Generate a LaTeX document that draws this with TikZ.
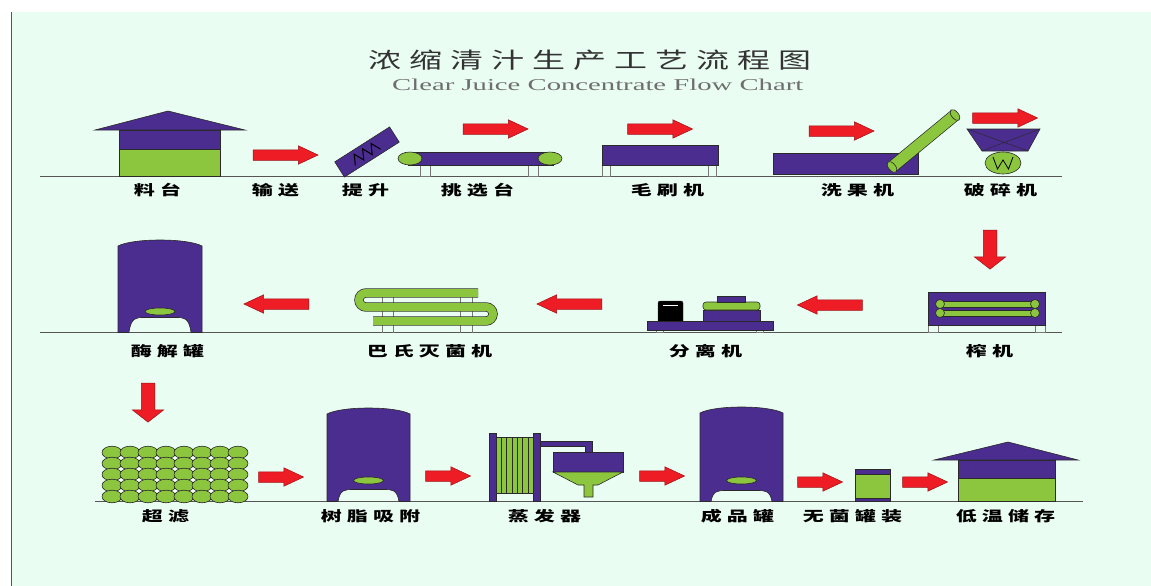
\documentclass[tikz,border=0pt]{standalone}
\usepackage{fontspec}
\usepackage{graphicx}
\usetikzlibrary{shapes.arrows,shapes.geometric}
\setmainfont{Liberation Serif}
\newfontfamily\cjk[LetterSpace=24]{Noto Sans CJK SC}

\definecolor{bgmint}{HTML}{EAFDF3}
\definecolor{eqpurple}{HTML}{4B2C8F}
\definecolor{eqgreen}{HTML}{8CC63F}
\definecolor{flowred}{HTML}{EE1C24}
\definecolor{edgecol}{HTML}{2A2A2A}
\definecolor{groundcol}{HTML}{555555}
\definecolor{titlecol}{HTML}{333333}
\definecolor{subcol}{HTML}{6E6E6E}

% horizontally widened text
\newcommand\stretchx[1]{\scalebox{1.5}[1]{#1}}

% storage tank on legs: x-left, x-right, dome top, bottom, arch height
\newcommand\drawtank[5]{%
  \filldraw[equip] (#1,#4) -- ({#1},{#3+6})
    .. controls ({#1+15},{#3-2}) and ({#2-15},{#3-2}) .. ({#2},{#3+6})
    -- ({#2},{#4}) -- ({#2-11},{#4})
    .. controls ({#2-13},{#4-#5}) and ({#2-18},{#4-#5}) .. ({#2-26},{#4-#5})
    -- ({#1+26},{#4-#5})
    .. controls ({#1+18},{#4-#5}) and ({#1+13},{#4-#5}) .. ({#1+11},{#4}) -- cycle;
  \filldraw[fruit] ({(#1+#2)/2},{#4-21}) ellipse[x radius=15, y radius=3.5];
}

\begin{document}
\begin{tikzpicture}[x=1pt,y=-1pt,
  equip/.style={fill=eqpurple, draw=edgecol, line width=0.6pt},
  fruit/.style={fill=eqgreen, draw=edgecol, line width=0.6pt},
  legbox/.style={fill=bgmint, draw=groundcol!80, line width=0.5pt},
  ground/.style={draw=groundcol, line width=0.9pt},
  flow/.style={single arrow, fill=flowred, draw=flowred!65!black, line width=0.5pt,
    inner xsep=0pt, inner ysep=5pt, minimum width=18pt, single arrow head extend=4pt,
    single arrow tip angle=50, minimum height=65pt},
  flowshort/.style={flow, minimum height=45pt},
  flowdown/.style={flow, rotate=-90, inner ysep=6.5pt, minimum width=31pt,
    single arrow head extend=9pt, single arrow tip angle=104, minimum height=39pt},
  lab/.style={font=\cjk\bfseries\fontsize{14}{14}\selectfont, text=black, inner sep=0pt},
  coil/.style={draw=edgecol, line width=0.7pt, double=eqgreen, double distance=8pt},
  tube/.style={draw=edgecol, line width=0.7pt, double=eqgreen, double distance=11pt}
]
\useasboundingbox (0,0) rectangle (1151,586);

% sheet
\fill[white] (0,0) rectangle (1151,586);
\fill[bgmint] (12,12) rectangle (1151,586);
\draw[groundcol, line width=1pt] (11.5,12) -- (11.5,586);

% titles
\node[font=\cjk\fontsize{22}{22}\selectfont, text=titlecol, inner sep=0pt] (title) at (590,60) {\stretchx{浓缩清汁生产工艺流程图}};
\node[anchor=base west, inner sep=0pt, text=subcol] (subtitle) at (392,90)
  {\resizebox{411pt}{11.5pt}{Clear Juice Concentrate Flow Chart}};

% floor lines
\draw[ground] (40,176.5) -- (1062,176.5);
\draw[ground] (40,332.5) -- (1062,332.5);
\draw[ground] (95,501.5) -- (1083,501.5);

% ---------------- row 1 ----------------
% raw material shed
\filldraw[equip] (95,130) -- (168,111) -- (245,130) -- cycle;
\filldraw[equip] (119,130) rectangle (220,149);
\filldraw[fruit] (119,149) rectangle (220,176.5);

\node[flow] (f1) at (280,155) {};

% lifting conveyor
\node[equip, rotate=32.5, minimum width=65pt, minimum height=18pt, inner sep=0pt] (lift) at (367,152) {};
\begin{scope}[shift={(lift.center)}, rotate=32.5]
  \draw[black, line width=1pt] (-17,5) -- (-12,-5) -- (-7,5) -- (-2,-5) -- (3,5) -- (8,-5) -- (13,5);
\end{scope}

% sorting table
\filldraw[legbox] (420,165) rectangle (430,176.5);
\filldraw[legbox] (528,165) rectangle (538,176.5);
\filldraw[equip] (408,152) rectangle (553,165);
\filldraw[fruit] (410,158.5) ellipse[x radius=12, y radius=6.5];
\filldraw[fruit] (550,158.5) ellipse[x radius=12, y radius=6.5];
\node[flow] (f2) at (490,129) {};

% brushing machine
\filldraw[legbox] (602,165) rectangle (610,176.5);
\filldraw[legbox] (708,165) rectangle (716,176.5);
\filldraw[equip] (602,145) rectangle (718,165);
\node[flow] (f3) at (654.5,129) {};

% fruit washer with elevator tube
\filldraw[equip] (773,153) rectangle (918,174);
\draw[tube] (892,167) -- (955,115);
\filldraw[fruit, rotate around={39.5:(892,167)}] (892,167) ellipse[x radius=3.5, y radius=6.5];
\filldraw[fruit, rotate around={39.5:(955,115)}] (955,115) ellipse[x radius=3.5, y radius=6.5];
\node[flow] (f4) at (836,131) {};

% crusher
\node[flow] (f5) at (999.5,118) {};
\filldraw[equip] (967,129) -- (1040,129) -- (1028,151) -- (982,151) -- cycle;
\draw[edgecol, line width=0.5pt] (967,129) -- (1028,151) (1040,129) -- (982,151);
\node[fruit, ellipse, minimum width=36pt, minimum height=22pt, inner sep=0pt] (wheel) at (1003,163) {};
\draw[black, line width=0.8pt] (993,157) -- (997.5,169) -- (1003,160) -- (1008.5,169) -- (1013,157);

% row 1 captions
\node[lab] (l1) at (157.5,190) {\stretchx{料台}};
\node[lab] (l2) at (275.5,190) {\stretchx{输送}};
\node[lab] (l3) at (365.5,190) {\stretchx{提升}};
\node[lab] (l4) at (477.5,190) {\stretchx{挑选台}};
\node[lab] (l5) at (667.5,190) {\stretchx{毛刷机}};
\node[lab] (l6) at (857.5,190) {\stretchx{洗果机}};
\node[lab] (l7) at (1000.5,190) {\stretchx{破碎机}};

% ---------------- row 2 ----------------
\node[flowdown] (d1) at (990,247) {};

% press
\filldraw[legbox] (928,325) rectangle (938,332.5);
\filldraw[legbox] (1035,325) rectangle (1045,332.5);
\filldraw[equip] (928,292) rectangle (1045,325);
\foreach \yy in {304,313} {
  \filldraw[fruit] (940,\yy-3) rectangle (1035,\yy+3);
  \filldraw[fruit] (940,\yy) circle[radius=4.5];
  \filldraw[fruit] (1035,\yy) circle[radius=4.5];
}

\node[flow, rotate=180] (g1) at (835.5,305) {};

% centrifuge
\filldraw[legbox] (656,330) rectangle (663,332.5);
\filldraw[legbox] (756,330) rectangle (763,332.5);
\filldraw[equip] (647,321) rectangle (773,330);
\filldraw[fill=black, draw=edgecol, rounded corners=2pt] (658,321) -- (658,301) -- (683,301) -- (683,321);
\draw[white, line width=0.8pt] (663,305) -- (678,305);
\filldraw[equip] (703,310) rectangle (760,321);
\filldraw[fruit, rounded corners=3pt] (703,302) rectangle (760,310);
\filldraw[equip] (717,296) rectangle (745,302);

\node[flow, rotate=180] (g2) at (575,304) {};

% pasteurizer
\foreach \xx in {382,393,460,472} \draw[groundcol!80, line width=0.6pt] (\xx,289) -- (\xx,332.5);
\draw[coil] (478,293) -- (366,293) arc[start angle=-90, end angle=-270, radius=7]
  -- (486,307) arc[start angle=-90, end angle=90, radius=7] -- (373,321);

\node[flow, rotate=180] (g3) at (282,304) {};

% enzymolysis tank
\drawtank{118}{202}{240}{332.5}{15}

% row 2 captions
\node[lab] (m1) at (167.5,351) {\stretchx{酶解罐}};
\node[lab] (m2) at (429.5,351) {\stretchx{巴氏灭菌机}};
\node[lab] (m3) at (705.5,351) {\stretchx{分离机}};
\node[lab] (m4) at (989.5,351) {\stretchx{榨机}};

% ---------------- row 3 ----------------
\node[flowdown] (d2) at (148,400) {};

% ultrafiltration membrane bundle
\foreach \i in {0,...,7} \foreach \j in {0,...,4}
  \filldraw[fruit] ({112+18*\i},{452.5+11*\j}) ellipse[x radius=10, y radius=6.3];
\foreach \i in {1,...,7} \foreach \j in {1,...,4}
  \fill[white] ({103+18*\i},{447+11*\j}) ellipse[x radius=1.8, y radius=1.4];

\node[flowshort] (h1) at (275.5,477) {};

% resin adsorption column
\drawtank{327}{410}{408}{501.5}{12}

\node[flowshort] (h2) at (442.5,476) {};

% evaporator
\filldraw[equip] (489,433) rectangle (496,501.5);
\filldraw[equip] (533,433) rectangle (540,501.5);
\filldraw[fruit] (496,437) rectangle (533,493);
\foreach \k in {1,...,6} \draw[edgecol, line width=0.5pt] ({496+5.3*\k},437) -- ({496+5.3*\k},493);
\filldraw[equip] (540,441) -- (592,441) -- (592,452) -- (585,452) -- (585,446) -- (540,446) -- cycle;
\filldraw[equip] (553,452) rectangle (623,472);
\filldraw[fruit] (553,472) -- (623,472) -- (598,485) -- (593,485) -- (593,497) -- (584,497) -- (584,485) -- (578,485) -- cycle;

\node[flowshort] (h3) at (656.5,476) {};

% product tank
\drawtank{700}{783}{407}{501.5}{11}

\node[flowshort] (h4) at (814.5,482) {};

% aseptic package
\filldraw[equip] (855,469) rectangle (890,501.5);
\filldraw[fruit] (855,474) rectangle (890,498.5);

\node[flowshort] (h5) at (919.5,482) {};

% cold store
\filldraw[equip] (934,460) -- (1008,442) -- (1078,460) -- cycle;
\filldraw[equip] (958,460) rectangle (1055,478);
\filldraw[fruit] (958,478) rectangle (1055,501.5);

% row 3 captions
\node[lab] (n1) at (165.5,516) {\stretchx{超滤}};
\node[lab] (n2) at (370.5,516) {\stretchx{树脂吸附}};
\node[lab] (n3) at (544.5,516) {\stretchx{蒸发器}};
\node[lab] (n4) at (737.5,516) {\stretchx{成品罐}};
\node[lab] (n5) at (852.5,516) {\stretchx{无菌罐装}};
\node[lab] (n6) at (1005.5,516) {\stretchx{低温储存}};
\end{tikzpicture}
\end{document}
